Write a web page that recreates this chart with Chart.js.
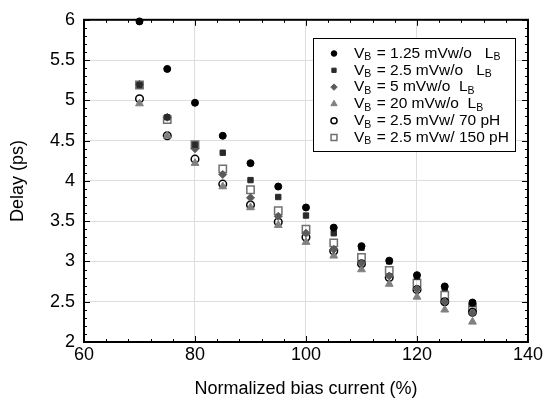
<!DOCTYPE html>
<html>
<head>
<meta charset="utf-8">
<script src="https://cdn.jsdelivr.net/npm/chart.js@4/dist/chart.umd.min.js"></script>
<style>
  body { margin: 0; background: #fff; }
  #chart { display: block; }
</style>
</head>
<body>
<canvas id="chart" width="545" height="403"></canvas>
<script>
// bias current (%) on the x axis, delay (ps) per curve
var current = [70, 75, 80, 85, 90, 95, 100, 105, 110, 115, 120, 125, 130];
var vb125 = [5.98, 5.39, 4.97, 4.56, 4.22, 3.93, 3.67, 3.42, 3.19, 3.01, 2.83, 2.69, 2.49];
var vb25 = [5.19, 4.79, 4.45, 4.35, 4.01, 3.80, 3.57, 3.35, 3.17, 3.00, 2.81, 2.67, 2.47];
var vb5 = [5.20, 4.79, 4.40, 4.08, 3.79, 3.56, 3.35, 3.15, 2.98, 2.82, 2.66, 2.50, 2.36];
var vb20 = [4.96, 4.56, 4.22, 3.93, 3.67, 3.45, 3.24, 3.07, 2.90, 2.72, 2.56, 2.40, 2.25];
var vb25l70 = [5.02, 4.56, 4.27, 3.96, 3.70, 3.49, 3.30, 3.13, 2.97, 2.80, 2.65, 2.50, 2.37];
var vb25l150 = [5.19, 4.76, 4.45, 4.15, 3.89, 3.63, 3.40, 3.23, 3.05, 2.89, 2.73, 2.58, 2.43];

var labels = [
    "V_B = 1.25 mVw/o   L_B",
    "V_B = 2.5 mVw/o   L_B",
    "V_B = 5 mVw/o  L_B",
    "V_B = 20 mVw/o  L_B",
    "V_B = 2.5 mVw/ 70 pH",
    "V_B = 2.5 mVw/ 150 pH"
];

var FONT = "'Liberation Sans', Arial, sans-serif";

function pts(ys) {
    return current.map(function (x, i) { return {x: x, y: ys[i]}; });
}

// inward ticks on all four sides, plus the closed frame
var frameTicks = {
    id: 'frameTicks',
    afterDraw: function (chart) {
        var ctx = chart.ctx, a = chart.chartArea;
        var xs = chart.scales.x, ys = chart.scales.y;
        ctx.save();
        ctx.strokeStyle = '#000';
        ctx.lineWidth = 1;
        ctx.beginPath();
        for (var v = 60; v <= 140; v += 4) {
            var px = Math.round(xs.getPixelForValue(v)) + 0.5;
            var len = (v % 20 === 0) ? 6 : 3;
            ctx.moveTo(px, a.bottom); ctx.lineTo(px, a.bottom - len);
            ctx.moveTo(px, a.top); ctx.lineTo(px, a.top + len);
        }
        for (var k = 20; k <= 60; k++) {
            var py = Math.round(ys.getPixelForValue(k / 10)) + 0.5;
            var l2 = (k % 5 === 0) ? 6 : 3;
            ctx.moveTo(a.left, py); ctx.lineTo(a.left + l2, py);
            ctx.moveTo(a.right, py); ctx.lineTo(a.right - l2, py);
        }
        ctx.stroke();
        ctx.lineWidth = 2;
        ctx.strokeRect(a.left, a.top, a.right - a.left, a.bottom - a.top);
        ctx.restore();
    }
};

// legend with subscript B
var subLegend = {
    id: 'subLegend',
    afterDraw: function (chart) {
        var ctx = chart.ctx;
        var bx = 313, by = 38, bw = 202, bh = 113;
        ctx.save();
        ctx.fillStyle = '#fff';
        ctx.fillRect(bx, by, bw, bh);
        ctx.strokeStyle = '#000';
        ctx.lineWidth = 1;
        ctx.strokeRect(bx + 0.5, by + 0.5, bw, bh);
        chart.data.datasets.forEach(function (ds, i) {
            var cy = 53.5 + i * 16.8;
            ctx.fillStyle = ds.backgroundColor;
            ctx.strokeStyle = ds.borderColor;
            ctx.lineWidth = ds.borderWidth;
            Chart.helpers.drawPoint(ctx, {
                pointStyle: ds.pointStyle,
                radius: ds.pointRadius * 0.8,
                rotation: 0,
                borderWidth: ds.borderWidth
            }, 334, cy);
            var parts = ds.label.split('_B');
            var x = 354;
            ctx.textBaseline = 'middle';
            ctx.textAlign = 'left';
            ctx.fillStyle = '#000';
            parts.forEach(function (p, j) {
                ctx.font = '15.5px ' + FONT;
                ctx.fillText(p, x, cy);
                x += ctx.measureText(p).width;
                if (j < parts.length - 1) {
                    ctx.font = '10.5px ' + FONT;
                    ctx.fillText('B', x, cy + 4);
                    x += ctx.measureText('B').width + 1;
                }
            });
        });
        ctx.restore();
    }
};

var styles = [
    {pointStyle: 'circle', pointRadius: 3.5, backgroundColor: '#000', borderColor: '#000', borderWidth: 1},
    {pointStyle: 'rect', pointRadius: 3.8, backgroundColor: '#2a2a2a', borderColor: '#2a2a2a', borderWidth: 1},
    {pointStyle: 'rectRot', pointRadius: 4, backgroundColor: '#5a5a5a', borderColor: '#5a5a5a', borderWidth: 1},
    {pointStyle: 'triangle', pointRadius: 4.5, backgroundColor: '#808080', borderColor: '#808080', borderWidth: 1},
    {pointStyle: 'circle', pointRadius: 3.8, backgroundColor: 'rgba(0,0,0,0)', borderColor: '#000', borderWidth: 1.5},
    {pointStyle: 'rect', pointRadius: 5.2, backgroundColor: 'rgba(0,0,0,0)', borderColor: '#707070', borderWidth: 1.5}
];
var series = [vb125, vb25, vb5, vb20, vb25l70, vb25l150];

var datasets = series.map(function (s, i) {
    var st = styles[i];
    return {
        label: labels[i],
        data: pts(s),
        pointStyle: st.pointStyle,
        pointRadius: st.pointRadius,
        pointHoverRadius: st.pointRadius,
        backgroundColor: st.backgroundColor,
        borderColor: st.borderColor,
        borderWidth: st.borderWidth,
        showLine: false,
        clip: false
    };
});

Chart.defaults.font.family = FONT;
Chart.defaults.color = '#000';

new Chart(document.getElementById('chart'), {
    type: 'scatter',
    data: {datasets: datasets},
    options: {
        responsive: false,
        animation: false,
        layout: {padding: {top: 16, right: 15, left: 0, bottom: 0}},
        plugins: {legend: {display: false}, tooltip: {enabled: false}},
        scales: {
            x: {
                type: 'linear',
                min: 60, max: 140,
                afterFit: function (s) { s.height = 61; },
                ticks: {stepSize: 20, padding: 2, font: {size: 18}},
                grid: {color: '#dedede', drawTicks: false},
                border: {display: false},
                title: {display: true, text: 'Normalized bias current (%)', font: {size: 18}, padding: {top: 0, bottom: 3}}
            },
            y: {
                type: 'linear',
                min: 2, max: 6,
                afterFit: function (s) { s.width = 84; },
                ticks: {
                    stepSize: 0.5, padding: 9, font: {size: 18},
                    callback: function (v) { return String(Math.round(v * 10) / 10); }
                },
                grid: {color: '#dedede', drawTicks: false},
                border: {display: false},
                title: {display: true, text: 'Delay (ps)', font: {size: 18}, padding: {top: 7, bottom: 0}}
            }
        }
    },
    plugins: [frameTicks, subLegend]
});
</script>
</body>
</html>
